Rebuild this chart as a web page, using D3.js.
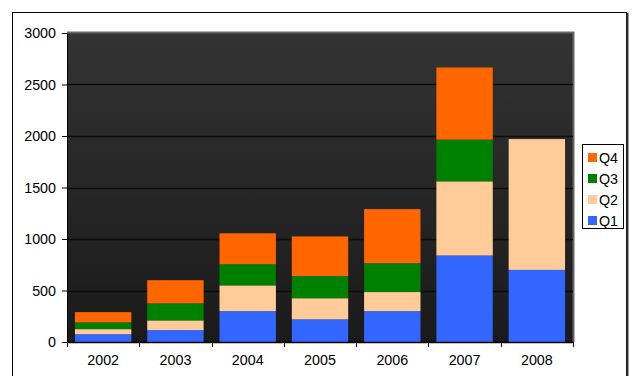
<!DOCTYPE html>
<html><head><meta charset="utf-8">
<script src="https://cdn.jsdelivr.net/npm/d3@7"></script>
<style>body{margin:0;background:#fff}svg{display:block}text{font-family:"Liberation Sans",Arial,sans-serif}</style>
</head><body><svg id="c" width="633" height="376"></svg>
<script>
const categories = ["2002","2003","2004","2005","2006","2007","2008"];
const Q1 = [75,115,300,220,300,840,700];
const Q2 = [50,95,250,205,185,720,1270];
const Q3 = [65,165,205,215,280,405,0];
const Q4 = [100,225,300,385,525,700,0];
const seriesNames = ["Q1","Q2","Q3","Q4"];
const seriesColors = ["#3366ff","#ffcc99","#008000","#ff6600"];
const yTicks = [0,500,1000,1500,2000,2500,3000];

const rows = categories.map((c,i)=>({cat:c,Q1:Q1[i],Q2:Q2[i],Q3:Q3[i],Q4:Q4[i]}));
const svg = d3.select("#c");
const L=67,T=33,R=573,B=342;
const x = d3.scaleBand().domain(categories).range([L,R]).paddingInner(0.22).paddingOuter(0.11);
const xb = d3.scaleBand().domain(categories).range([L,R]);
const y = d3.scaleLinear().domain([0,3000]).range([B,T]);

// outer frame
svg.append("rect").attr("x",12.5).attr("y",12.5).attr("width",614).attr("height",380).attr("fill","#fff").attr("stroke","#000").attr("stroke-width",1);
svg.append("line").attr("x1",627.5).attr("x2",627.5).attr("y1",13).attr("y2",376).attr("stroke","#333").attr("stroke-width",2);

const defs = svg.append("defs");
const g = defs.append("linearGradient").attr("id","bg").attr("x1",0).attr("y1",0).attr("x2",0).attr("y2",1);
g.append("stop").attr("offset","0%").attr("stop-color","#333333");
g.append("stop").attr("offset","100%").attr("stop-color","#1a1a1a");
svg.append("rect").attr("x",L).attr("y",T).attr("width",R-L).attr("height",B-T).attr("fill","url(#bg)");
svg.append("path").attr("d",`M${L},${T-0.5}H${R+0.5}V${B}`).attr("fill","none").attr("stroke","#666").attr("stroke-width",2);

// gridlines
svg.append("g").selectAll("line").data(yTicks.filter(d=>d>0&&d<3000)).join("line")
  .attr("x1",L).attr("x2",R).attr("y1",d=>Math.round(y(d))+0.5).attr("y2",d=>Math.round(y(d))+0.5)
  .attr("stroke","#0d0d0d").attr("stroke-width",1.3);

// bars
const stack = d3.stack().keys(seriesNames)(rows);
svg.append("g").selectAll("g").data(stack).join("g").attr("fill",(d,i)=>seriesColors[i])
  .selectAll("rect").data(d=>d).join("rect")
  .attr("x",d=>x(d.data.cat)).attr("width",x.bandwidth())
  .attr("y",d=>y(d[1])).attr("height",d=>y(d[0])-y(d[1]));

// y axis
const ya = svg.append("g").attr("transform",`translate(${L},0)`)
  .call(d3.axisLeft(y).tickValues(yTicks).tickSize(5).tickPadding(6).tickFormat(d3.format("d")));
ya.select(".domain").attr("stroke","#000");
ya.selectAll("text").attr("font-size",14.3).attr("fill","#000");
// x axis
const xa = svg.append("g").attr("transform",`translate(0,${B})`)
  .call(d3.axisBottom(xb).tickSize(0).tickPadding(13));
xa.select(".domain").attr("stroke","#000").attr("stroke-width",1.5);
xa.selectAll("text").attr("font-size",14.3).attr("fill","#000");
svg.append("g").selectAll("line").data(categories.concat(["end"])).join("line")
  .attr("x1",(d,i)=>Math.round(L+i*xb.bandwidth())+0.5).attr("x2",(d,i)=>Math.round(L+i*xb.bandwidth())+0.5)
  .attr("y1",B).attr("y2",B+5).attr("stroke","#000");

// legend
const lg = svg.append("g");
lg.append("rect").attr("x",582.5).attr("y",144.5).attr("width",41).attr("height",84).attr("fill","#fff").attr("stroke","#000");
const order = [3,2,1,0];
order.forEach((si,k)=>{
  const cy = 157 + k*21;
  lg.append("rect").attr("x",588).attr("y",cy-4).attr("width",9).attr("height",9).attr("fill",seriesColors[si]);
  lg.append("text").attr("x",599).attr("y",cy+5.5).attr("font-size",14.3).attr("fill","#000").text(seriesNames[si]);
});
</script></body></html>
